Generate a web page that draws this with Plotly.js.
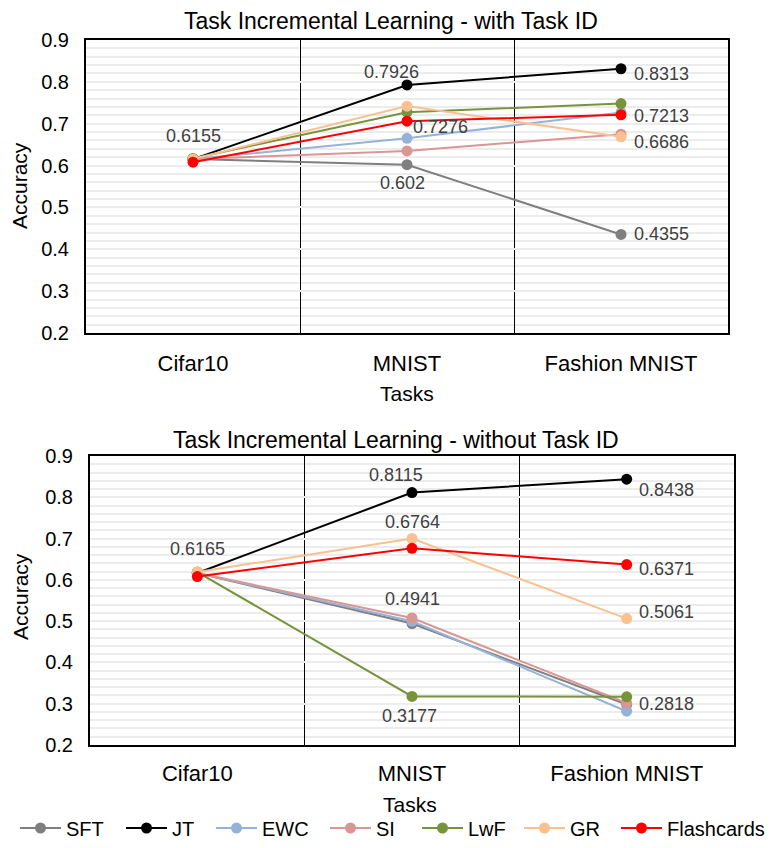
<!DOCTYPE html>
<html>
<head>
<meta charset="utf-8">
<script src="https://cdn.plot.ly/plotly-3.0.1.min.js"></script>
<style>html,body{margin:0;padding:0;background:#fff;}#chart{width:778px;height:848px;}</style>
</head>
<body>
<div id="chart"></div>
<script>
// ---- data ----
const categories = ['Cifar10', 'MNIST', 'Fashion MNIST'];
const seriesNames = ['SFT', 'JT', 'EWC', 'SI', 'LwF', 'GR', 'Flashcards'];

// Task Incremental Learning - with Task ID
const withId_SFT = [0.6155, 0.602, 0.4355];
const withId_JT = [0.6155, 0.7926, 0.8313];
const withId_EWC = [0.6155, 0.665, 0.727];
const withId_SI = [0.6155, 0.635, 0.675];
const withId_LwF = [0.617, 0.7276, 0.748];
const withId_GR = [0.6155, 0.742, 0.6686];
const withId_Flashcards = [0.608, 0.706, 0.7213];

// Task Incremental Learning - without Task ID
const withoutId_SFT = [0.6165, 0.4941, 0.298];
const withoutId_JT = [0.6165, 0.8115, 0.8438];
const withoutId_EWC = [0.6165, 0.4997, 0.2818];
const withoutId_SI = [0.6165, 0.5077, 0.3016];
const withoutId_LwF = [0.619, 0.3177, 0.3168];
const withoutId_GR = [0.619, 0.7002, 0.5061];
const withoutId_Flashcards = [0.608, 0.6764, 0.6371];

const yTickValues = [0.2, 0.3, 0.4, 0.5, 0.6, 0.7, 0.8, 0.9];
const yTickLabels = ['0.2', '0.3', '0.4', '0.5', '0.6', '0.7', '0.8', '0.9'];

// ---- styles ----
const colors = {SFT:'#7f7f7f', JT:'#000000', EWC:'#95b3d7', SI:'#d99694', LwF:'#77933c', GR:'#fac090', Flashcards:'#ff0000'};
const FONT = 'Liberation Sans, Arial, sans-serif';
// legend text start positions (px) for each entry
const legendTextX = {SFT:66, JT:172, EWC:262, SI:376, LwF:468, GR:570, Flashcards:667};
const LEGEND_SYMBOL_W = 41;

const withId = {SFT:withId_SFT, JT:withId_JT, EWC:withId_EWC, SI:withId_SI, LwF:withId_LwF, GR:withId_GR, Flashcards:withId_Flashcards};
const withoutId = {SFT:withoutId_SFT, JT:withoutId_JT, EWC:withoutId_EWC, SI:withoutId_SI, LwF:withoutId_LwF, GR:withoutId_GR, Flashcards:withoutId_Flashcards};

const traces = [];
seriesNames.forEach(name => {
  traces.push({x: categories, y: withId[name], name: name, type:'scatter', mode:'lines+markers',
    line:{color:colors[name], width:2}, marker:{color:colors[name], size:11},
    xaxis:'x', yaxis:'y', showlegend:false, hoverinfo:'skip'});
});
seriesNames.forEach((name, k) => {
  traces.push({x: categories, y: withoutId[name], name: name, type:'scatter', mode:'lines+markers',
    line:{color:colors[name], width:2}, marker:{color:colors[name], size:11},
    xaxis:'x2', yaxis:'y2', showlegend:true, legend: k === 0 ? 'legend' : 'legend' + (k + 1), hoverinfo:'skip'});
});

// data label placement (series, point index, pixel offset)
const labelsTop = [
  ['JT',0,0,23], ['JT',1,-16,13], ['LwF',1,33,-15], ['SFT',1,-5,-18],
  ['JT',2,40,-5], ['Flashcards',2,40,-1], ['GR',2,40,-5], ['SFT',2,40,0]
];
const labelsBottom = [
  ['JT',0,0,24], ['JT',1,-16,18], ['JT',2,40,-11], ['Flashcards',1,0,26],
  ['SFT',1,0,25], ['LwF',1,-3,-20], ['Flashcards',2,40,-4], ['GR',2,40,7], ['EWC',2,40,7]
];

const annotations = [];
function addLabels(list, data, xr, yr) {
  list.forEach(([s,i,dx,dy]) => {
    annotations.push({xref:xr, yref:yr, x:categories[i], y:data[s][i], text:String(data[s][i]),
      showarrow:false, xshift:dx, yshift:dy, font:{family:FONT, size:18, color:'#404040'}});
  });
}
addLabels(labelsTop, withId, 'x', 'y');
addLabels(labelsBottom, withoutId, 'x2', 'y2');

// titles
function paperText(text, x, yPx, size, angle) {
  annotations.push({xref:'paper', yref:'paper', x:x/778, y:1 - yPx/848, xanchor:'center', yanchor:'middle',
    text:text, showarrow:false, textangle:angle||0, font:{family:FONT, size:size, color:'#000000'}});
}
paperText('Task Incremental Learning - with Task ID', 391, 21, 23);
paperText('Task Incremental Learning - without Task ID', 396, 440, 23);
paperText('Tasks', 407, 394, 21);
paperText('Tasks', 410, 804, 21);
paperText('Accuracy', 20, 186, 21, -90);
paperText('Accuracy', 20, 597, 21, -90);

function xAxis(domain, gw, standoff) {
  return {domain: domain, type:'category', range:[-0.5, 2.5], tickson:'boundaries', showgrid:true,
    gridcolor:'#000000', gridwidth:gw, showline:true, mirror:true, linecolor:'#000000', linewidth:2,
    ticks:'', ticklabelstandoff:standoff, tickfont:{family:FONT, size:22, color:'#000000'}, zeroline:false, fixedrange:true};
}
function yAxis(domain) {
  return {domain: domain, range:[0.2, 0.9], tickvals:yTickValues, ticktext:yTickLabels, showgrid:true,
    gridcolor:'#ececec', gridwidth:2, minor:{dtick:0.02, tick0:0.2, showgrid:true, gridcolor:'#ececec', gridwidth:2},
    showline:true, mirror:true, linecolor:'#000000', linewidth:2, ticks:'', ticklabelstandoff:11,
    tickfont:{family:FONT, size:20, color:'#000000'}, zeroline:false, fixedrange:true};
}

const layout = {
  width:778, height:848, margin:{l:0, r:0, t:0, b:0}, paper_bgcolor:'#ffffff', plot_bgcolor:'#ffffff',
  font:{family:FONT},
  xaxis: Object.assign(xAxis([86/778, 728/778], 1, 10), {anchor:'y'}),
  yaxis: Object.assign(yAxis([1 - 333/848, 1 - 40/848]), {anchor:'x'}),
  xaxis2: Object.assign(xAxis([90/778, 734/778], 1.5, 8), {anchor:'y2'}),
  yaxis2: Object.assign(yAxis([1 - 745/848, 1 - 456/848]), {anchor:'x2'}),
  annotations: annotations,
  showlegend:true
};
seriesNames.forEach((name, k) => {
  const key = k === 0 ? 'legend' : 'legend' + (k + 1);
  layout[key] = {orientation:'h', x:(legendTextX[name] - LEGEND_SYMBOL_W - 10)/778, xanchor:'left',
    y:1 - 828/848, yanchor:'middle', itemwidth:LEGEND_SYMBOL_W,
    font:{family:FONT, size:20, color:'#000000'}, bgcolor:'rgba(0,0,0,0)', borderwidth:0};
});

Plotly.newPlot('chart', traces, layout, {displayModeBar:false, staticPlot:true});
</script>
</body>
</html>
